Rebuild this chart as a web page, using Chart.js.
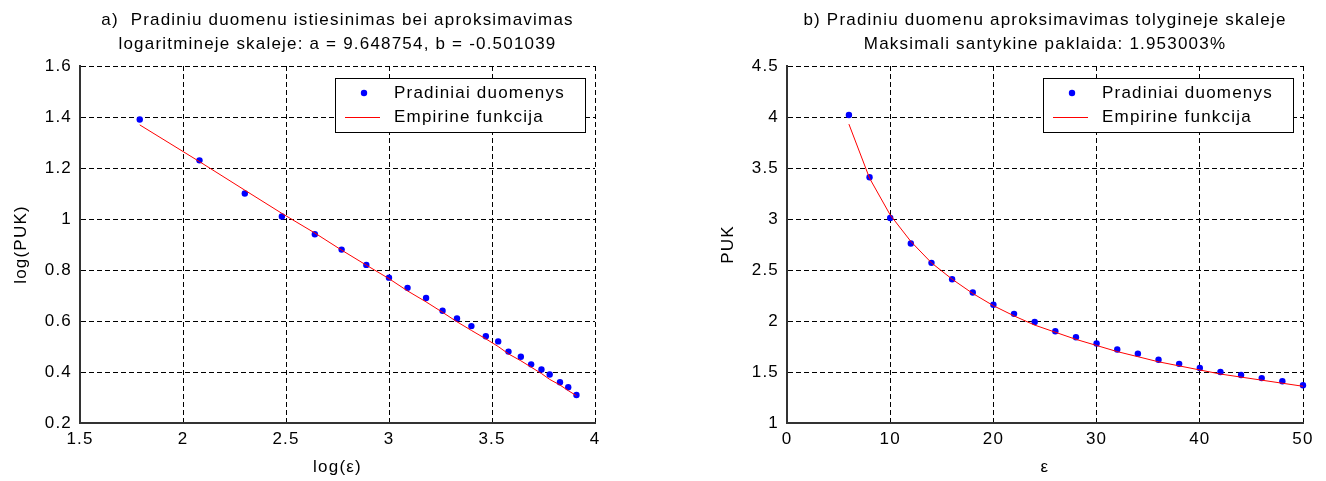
<!DOCTYPE html>
<html>
<head>
<meta charset="utf-8">
<script src="https://cdn.jsdelivr.net/npm/chart.js@4.4.0/dist/chart.umd.min.js"></script>
<style>
  body { margin: 0; background: #fff; }
  #wrap { position: relative; width: 1326px; height: 481px; }
  canvas { position: absolute; top: 0; }
</style>
</head>
<body>
<div id="wrap">
  <canvas id="chartA" width="663" height="481" style="left:0px"></canvas>
  <canvas id="chartB" width="663" height="481" style="left:663px"></canvas>
</div>
<script>
// values
const eps = [6, 8, 10, 12, 14, 16, 18, 20, 22, 24, 26, 28, 30, 32, 34, 36, 38, 40, 42, 44, 46, 48, 50];
const puk = [4.02, 3.41, 3.01, 2.76, 2.57, 2.41, 2.28, 2.16, 2.07, 1.99, 1.90, 1.84, 1.78, 1.72, 1.68, 1.62, 1.58, 1.54, 1.50, 1.47, 1.44, 1.41, 1.37];
const pukFit = [3.93, 3.40, 3.04, 2.78, 2.57, 2.41, 2.27, 2.15, 2.05, 1.96, 1.89, 1.82, 1.76, 1.70, 1.65, 1.60, 1.56, 1.52, 1.48, 1.45, 1.42, 1.39, 1.36];

const logEps = [1.79, 2.08, 2.30, 2.48, 2.64, 2.77, 2.89, 3.00, 3.09, 3.18, 3.26, 3.33, 3.40, 3.47, 3.53, 3.58, 3.64, 3.69, 3.74, 3.78, 3.83, 3.87, 3.91];
const logPuk = [1.39, 1.23, 1.10, 1.01, 0.94, 0.88, 0.82, 0.77, 0.73, 0.69, 0.64, 0.61, 0.58, 0.54, 0.52, 0.48, 0.46, 0.43, 0.41, 0.39, 0.36, 0.34, 0.31];
const logFit = [1.369, 1.225, 1.113, 1.022, 0.945, 0.878, 0.819, 0.766, 0.718, 0.675, 0.634, 0.597, 0.563, 0.530, 0.500, 0.471, 0.444, 0.419, 0.394, 0.371, 0.349, 0.327, 0.307];

const titleA = ["a)  Pradiniu duomenu istiesinimas bei aproksimavimas", "logaritmineje skaleje: a = 9.648754, b = -0.501039"];
const titleB = ["b) Pradiniu duomenu aproksimavimas tolygineje skaleje", "Maksimali santykine paklaida: 1.953003%"];
const legendLabels = ["Pradiniai duomenys", "Empirine funkcija"];

const FONT = "'Liberation Sans', Arial, sans-serif";

function pts(xs, ys) {
  var out = [];
  for (var i = 0; i < xs.length; i++) out.push({ x: xs[i], y: ys[i] });
  return out;
}

// matlab prints 2 not 2.0
function fmt(v) {
  return String(Math.round(v * 100) / 100);
}

// legend box drawn inside the plot area, top right (like matlab)
const boxLegend = {
  id: "boxLegend",
  beforeDraw(chart) {
    chart.ctx.letterSpacing = "1.2px";
  },
  afterDraw(chart) {
    const ctx = chart.ctx;
    const a = chart.chartArea;
    const w = 250, h = 54;
    const left = a.right - 10 - w, top = a.top + 12;
    ctx.save();
    ctx.fillStyle = "#fff";
    ctx.fillRect(left, top, w, h);
    ctx.strokeStyle = "#000";
    ctx.lineWidth = 1;
    ctx.strokeRect(left + 0.5, top + 0.5, w, h);
    const ds = chart.data.datasets;
    ctx.fillStyle = ds[0].backgroundColor;
    ctx.beginPath();
    ctx.arc(left + 29, top + 15, 3.2, 0, Math.PI * 2);
    ctx.fill();
    ctx.strokeStyle = ds[1].borderColor;
    ctx.beginPath();
    ctx.moveTo(left + 10, top + 39.5);
    ctx.lineTo(left + 45, top + 39.5);
    ctx.stroke();
    ctx.fillStyle = "#000";
    ctx.font = "17px " + FONT;
    ctx.textBaseline = "middle";
    ctx.textAlign = "left";
    ctx.fillText(ds[0].label, left + 59, top + 15);
    ctx.fillText(ds[1].label, left + 59, top + 39);
    ctx.restore();
  }
};

function makeChart(id, title, xs, ys, fit, xr, yr, xTitle, yTitle, padLeft, padRight) {
  return new Chart(document.getElementById(id), {
    type: "scatter",
    data: {
      datasets: [
        {
          label: legendLabels[0],
          data: pts(xs, ys),
          backgroundColor: "#0000ff",
          borderWidth: 0,
          pointRadius: 3.2,
          clip: false,
          order: 1
        },
        {
          label: legendLabels[1],
          data: pts(xs, fit),
          showLine: true,
          borderColor: "#ff0000",
          borderWidth: 1,
          pointRadius: 0,
          clip: false,
          order: 0
        }
      ]
    },
    options: {
      responsive: false,
      animation: false,
      events: [],
      layout: { padding: { left: padLeft, right: padRight, top: 0, bottom: 0 } },
      plugins: {
        legend: { display: false },
        tooltip: { enabled: false },
        title: {
          display: true,
          text: title,
          fullSize: false,
          color: "#000",
          font: { family: FONT, size: 17, weight: "normal", lineHeight: "24px" },
          padding: { top: 8, bottom: 10 }
        }
      },
      scales: {
        x: {
          type: "linear",
          min: xr[0],
          max: xr[1],
          afterFit: (s) => { s.height = 58; },
          ticks: { stepSize: xr[2], callback: fmt, color: "#000", padding: 6, font: { family: FONT, size: 17 } },
          grid: { color: "#000", drawTicks: false, lineWidth: 1 },
          border: { display: true, color: "#333", width: 2, dash: [5, 3] },
          title: { display: true, text: xTitle, color: "#000", font: { family: FONT, size: 17 }, padding: { top: 0, bottom: 3 } }
        },
        y: {
          type: "linear",
          min: yr[0],
          max: yr[1],
          afterFit: (s) => { s.width = 80; },
          ticks: { stepSize: yr[2], callback: fmt, color: "#000", padding: 8, font: { family: FONT, size: 17 } },
          grid: { color: "#000", drawTicks: false, lineWidth: 1 },
          border: { display: true, color: "#333", width: 2, dash: [5, 3] },
          title: { display: true, text: yTitle, color: "#000", font: { family: FONT, size: 17 }, padding: { top: 11, bottom: 0 } }
        }
      }
    },
    plugins: [boxLegend]
  });
}

window.onload = () => {
  makeChart("chartA", titleA, logEps, logPuk, logFit, [1.5, 4, 0.5], [0.2, 1.6, 0.2], "log(ε)", "log(PUK)", 0, 68);
  makeChart("chartB", titleB, eps, puk, pukFit, [0, 50, 10], [1, 4.5, 0.5], "ε", "PUK", 44, 23);
};
</script>
</body>
</html>
